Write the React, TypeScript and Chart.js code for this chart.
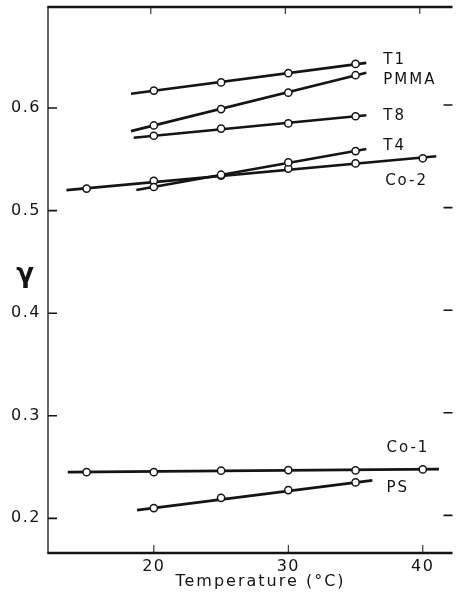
import { useEffect, useRef } from 'react';
import { Chart, registerables } from 'chart.js';

Chart.register(...registerables);

// ---- data ----
const seriesNames = ['T1', 'PMMA', 'T8', 'T4', 'Co-2', 'Co-1', 'PS'];

const temps6 = [15, 20, 25, 30, 35, 40];
const temps4 = [20, 25, 30, 35];

const t1Values = [0.617, 0.625, 0.634, 0.643];
const pmmaValues = [0.583, 0.599, 0.615, 0.632];
const t8Values = [0.573, 0.58, 0.585, 0.592];
const t4Values = [0.523, 0.535, 0.547, 0.558];
const co2Values = [0.5215, 0.529, 0.534, 0.541, 0.546, 0.551];
const co1Values = [0.245, 0.245, 0.2465, 0.247, 0.2467, 0.2477];
const psValues = [0.21, 0.22, 0.2275, 0.235];

const seriesX = [temps4, temps4, temps4, temps4, temps6, temps6, temps4];
const seriesY = [t1Values, pmmaValues, t8Values, t4Values, co2Values, co1Values, psValues];

// fitted straight lines: [start temp, end temp] and [start value, end value]
const fitX = [
  [18.3, 35.8],
  [18.3, 35.8],
  [18.5, 35.8],
  [18.7, 35.8],
  [13.5, 41.0],
  [13.6, 41.2],
  [18.75, 36.25],
];
const fitY = [
  [0.614, 0.644],
  [0.5775, 0.6345],
  [0.571, 0.593],
  [0.52, 0.56],
  [0.52, 0.553],
  [0.245, 0.248],
  [0.208, 0.237],
];

// series label anchors (data units)
const labelX = [37.06, 37.06, 37.06, 37.06, 37.2, 37.3, 37.3];
const labelY = [0.6468, 0.6273, 0.5917, 0.563, 0.529, 0.268, 0.2296];

const xTicks = [20, 30, 40];
const yTicks = [0.2, 0.3, 0.4, 0.5, 0.6];
const xMin = 12.13;
const xMax = 42.06;
const yMin = 0.1662;
const yMax = 0.6985;

const xTitle = 'Temperature (°C)';
const yTitle = 'γ';

const INK = '#141414';
const FONT = "'DejaVu Sans', sans-serif";

const zeroPad = (scale: any) => {
  scale.paddingTop = 0;
  scale.paddingBottom = 0;
  scale.paddingLeft = 0;
  scale.paddingRight = 0;
};

const decorPlugin = {
  id: 'decor',
  beforeUpdate(chart: any) {
    chart.ctx.letterSpacing = '1.5px';
  },
  beforeDraw(chart: any) {
    const ctx = chart.ctx;
    ctx.save();
    ctx.letterSpacing = '0px';
    ctx.fillStyle = '#ffffff';
    ctx.fillRect(0, 0, chart.width, chart.height);
    ctx.restore();
    ctx.letterSpacing = '1.5px';
  },
  afterDraw(chart: any) {
    const ctx = chart.ctx;
    const { left, right, top, bottom } = chart.chartArea;
    const xs = chart.scales.x;
    const ys = chart.scales.y;
    ctx.save();
    ctx.strokeStyle = INK;
    ctx.fillStyle = INK;
    ctx.lineCap = 'butt';

    // frame
    ctx.lineWidth = 1.3;
    ctx.beginPath();
    ctx.moveTo(left, top - 1);
    ctx.lineTo(left, bottom + 1);
    ctx.stroke();
    ctx.lineWidth = 2.6;
    ctx.beginPath();
    ctx.moveTo(left - 0.5, top);
    ctx.lineTo(right + 2, top);
    ctx.moveTo(left - 0.5, bottom);
    ctx.lineTo(right + 2, bottom);
    ctx.stroke();

    // inward ticks
    ctx.lineWidth = 1.6;
    ctx.beginPath();
    for (const v of yTicks) {
      const py = ys.getPixelForValue(v);
      ctx.moveTo(left, py);
      ctx.lineTo(left + 9, py);
      ctx.moveTo(right + 2, py - 3);
      ctx.lineTo(right - 7, py - 3);
    }
    ctx.stroke();
    ctx.lineWidth = 1;
    ctx.beginPath();
    for (const v of xTicks) {
      const px = xs.getPixelForValue(v);
      ctx.moveTo(px, bottom);
      ctx.lineTo(px, bottom - 8);
      ctx.moveTo(px - 3, top);
      ctx.lineTo(px - 3, top + 7);
    }
    ctx.stroke();

    // series labels
    ctx.letterSpacing = '2px';
    ctx.font = `15px ${FONT}`;
    ctx.textAlign = 'left';
    ctx.textBaseline = 'middle';
    seriesNames.forEach((name, i) => {
      ctx.fillText(name, xs.getPixelForValue(labelX[i]), ys.getPixelForValue(labelY[i]));
    });

    // axis titles
    ctx.font = `16px ${FONT}`;
    ctx.textAlign = 'center';
    ctx.textBaseline = 'middle';
    ctx.fillText(xTitle, left + (right - left) * 0.528, bottom + 29);

    ctx.letterSpacing = '0px';
    ctx.font = `bold 26px ${FONT}`;
    ctx.textAlign = 'center';
    ctx.textBaseline = 'alphabetic';
    ctx.fillText(yTitle, 25, ys.getPixelForValue(0.43));
    ctx.restore();
    ctx.letterSpacing = '1.5px';
  },
};

export default function App() {
  const canvasRef = useRef<HTMLCanvasElement | null>(null);

  useEffect(() => {
    if (!canvasRef.current) return;
    const datasets: any[] = [];
    seriesNames.forEach((name, i) => {
      datasets.push({
        label: name + ' fit',
        data: fitX[i].map((x, k) => ({ x, y: fitY[i][k] })),
        showLine: true,
        borderColor: INK,
        borderWidth: 2.6,
        pointRadius: 0,
        order: 2,
      });
      datasets.push({
        label: name,
        data: seriesX[i].map((x, k) => ({ x, y: seriesY[i][k] })),
        showLine: false,
        pointRadius: 3.6,
        pointBorderWidth: 1.5,
        pointBackgroundColor: '#ffffff',
        pointBorderColor: INK,
        order: 1,
      });
    });

    const chart = new Chart(canvasRef.current, {
      type: 'scatter',
      data: { datasets },
      options: {
        animation: false,
        responsive: false,
        maintainAspectRatio: false,
        events: [],
        layout: { padding: { top: 7, right: 1, left: 0, bottom: 0 } },
        plugins: {
          legend: { display: false },
          tooltip: { enabled: false },
          title: { display: false },
        },
        scales: {
          x: {
            type: 'linear',
            min: xMin,
            max: xMax,
            grid: { display: false, drawTicks: false },
            border: { display: false },
            afterBuildTicks: (scale: any) => {
              scale.ticks = xTicks.map((v) => ({ value: v }));
            },
            afterFit: (scale: any) => {
              scale.height = 44;
              zeroPad(scale);
            },
            ticks: {
              color: INK,
              font: { family: FONT, size: 16 },
              padding: 4,
              maxRotation: 0,
              autoSkip: false,
              callback: (v: any) => String(v),
            },
          },
          y: {
            type: 'linear',
            min: yMin,
            max: yMax,
            grid: { display: false, drawTicks: false },
            border: { display: false },
            afterBuildTicks: (scale: any) => {
              scale.ticks = yTicks.map((v) => ({ value: v }));
            },
            afterFit: (scale: any) => {
              scale.width = 48;
              zeroPad(scale);
            },
            ticks: {
              color: INK,
              font: { family: FONT, size: 16 },
              padding: 7,
              autoSkip: false,
              callback: (v: any) => Number(v).toFixed(1),
            },
          },
        },
      },
      plugins: [decorPlugin],
    });
    return () => chart.destroy();
  }, []);

  return (
    <div style={{ position: 'absolute', left: 0, top: 0, width: 456, height: 597, background: '#fff' }}>
      <canvas ref={canvasRef} width={456} height={597} style={{ display: 'block', width: 456, height: 597 }} />
    </div>
  );
}
